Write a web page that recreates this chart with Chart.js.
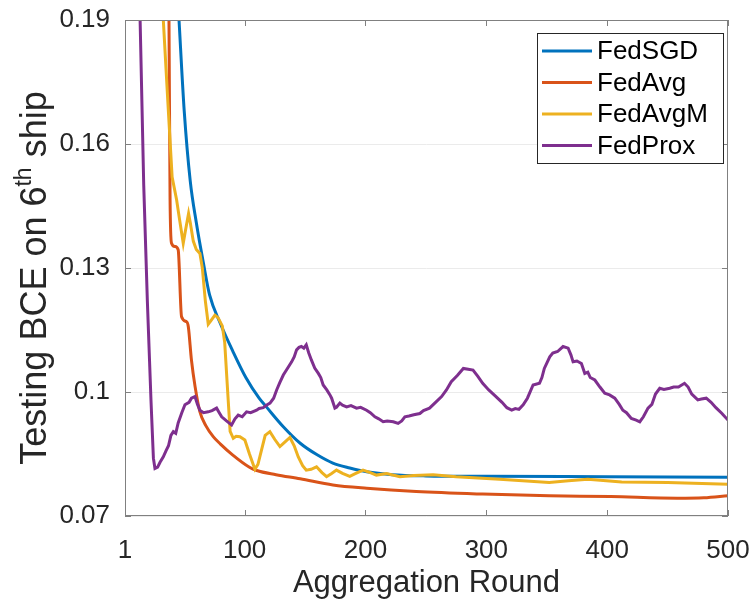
<!DOCTYPE html>
<html>
<head>
<meta charset="utf-8">
<script src="https://cdn.jsdelivr.net/npm/chart.js@4.4.0/dist/chart.umd.min.js"></script>
<style>
body{margin:0;background:#fff}
</style>
</head>
<body>
<canvas id="c" width="755" height="602"></canvas>
<script>
// axis ticks
const xTicks = [1, 100, 200, 300, 400, 500];
const yTicks = [0.07, 0.1, 0.13, 0.16, 0.19];
const yTickLabels = ['0.07', '0.1', '0.13', '0.16', '0.19'];

const seriesNames = ['FedSGD', 'FedAvg', 'FedAvgM', 'FedProx'];
const seriesColors = ['#0072BD', '#D95319', '#EDB120', '#7E2F8E'];

// values (rounds / testing BCE)
const sgdRounds = [41, 45.7, 50, 55, 60, 66, 71, 80, 90, 101, 112, 118, 132, 146, 160, 173, 187, 201, 222, 250, 300, 400, 500];
const sgdLoss = [0.215, 0.19, 0.168, 0.151, 0.141, 0.131, 0.1235, 0.1165, 0.110, 0.1035, 0.0985, 0.0964, 0.0916, 0.0876, 0.0848, 0.0828, 0.0816, 0.0807, 0.0800, 0.0797, 0.0796, 0.0795, 0.0794];

const avgRounds = [36, 37.4, 38.3, 39.5, 42.4, 45, 47.8, 52, 53.4, 56, 59, 63, 68, 74, 80, 90, 104, 110, 126, 146, 173, 201, 242, 297, 352, 403, 458, 480, 500];
const avgLoss = [0.24, 0.19, 0.1465, 0.136, 0.1352, 0.1344, 0.1182, 0.117, 0.1158, 0.1077, 0.1013, 0.0952, 0.0918, 0.0892, 0.0874, 0.0848, 0.0818, 0.0810, 0.0800, 0.0790, 0.0775, 0.0767, 0.0759, 0.0753, 0.0749, 0.0747, 0.0743, 0.0744, 0.0749];

const avgmRounds = [31.5, 32.7, 36.5, 40, 43.7, 46, 49.2, 51, 53.6, 55, 57.5, 60, 63, 65, 67.5, 69.9, 72, 75.4, 78, 81.5, 83.5, 86.4, 88, 90.6, 93, 96.1, 100.2, 104, 108.5, 111, 114, 117, 120.9, 125, 129.2, 133, 137.5, 141, 144.4, 148, 151, 155, 159.5, 164, 167.8, 172, 176, 181, 187, 192, 198, 204, 209, 217.5, 228.5, 240, 256, 275, 311, 352, 368, 384, 412, 450, 500];
const avgmLoss = [0.21, 0.19, 0.170, 0.152, 0.1465, 0.142, 0.136, 0.139, 0.1432, 0.141, 0.1365, 0.1345, 0.1335, 0.130, 0.122, 0.1164, 0.1172, 0.1186, 0.118, 0.1160, 0.112, 0.098, 0.0905, 0.0888, 0.0893, 0.0892, 0.0884, 0.085, 0.0813, 0.0825, 0.086, 0.0895, 0.0904, 0.0885, 0.0868, 0.0878, 0.089, 0.087, 0.0843, 0.0822, 0.0811, 0.0813, 0.0819, 0.0805, 0.0795, 0.0803, 0.0811, 0.0803, 0.0796, 0.0803, 0.0811, 0.0805, 0.0799, 0.0803, 0.0795, 0.0798, 0.0800, 0.0795, 0.0789, 0.0781, 0.0785, 0.0789, 0.0782, 0.0781, 0.0777];

const proxRounds = [1, 10, 13.5, 16.5, 19.5, 22.5, 24.5, 25.8, 28, 30, 32.7, 35, 37, 39, 41, 43, 45, 48, 50.6, 54, 56, 58.9, 61, 63, 66, 69.9, 73, 76.8, 79, 81, 85, 89.2, 92, 94.7, 98, 101.6, 105, 109.9, 112, 115.4, 118, 121, 124, 126.5, 129, 132, 135, 138.9, 141, 143, 145, 147, 149, 151, 153, 155.3, 158, 161, 163, 165, 168, 170.6, 172, 174.7, 176, 178.8, 181, 184.4, 188, 192.6, 196, 200.9, 204, 207.8, 211, 214.6, 218, 223, 227, 230, 232.6, 236, 240, 245, 248, 253, 258, 263, 267, 271, 276, 281, 285, 289, 293, 297, 302, 308, 313, 317, 321, 324, 327, 330.5, 334, 338.7, 344, 346, 348, 352.5, 355, 359, 363.5, 367.7, 370, 371.8, 375, 378.7, 381.5, 384, 386, 389.8, 394, 398, 402, 406.3, 410, 413, 416, 420, 424, 427, 430, 433.8, 437, 440, 443.5, 447, 451.8, 455, 459, 464, 467, 470, 475, 478, 482, 486, 490, 495, 500];
const proxLoss = [0.30, 0.23, 0.19, 0.150, 0.122, 0.098, 0.084, 0.0815, 0.0818, 0.083, 0.0843, 0.0858, 0.087, 0.0895, 0.0904, 0.090, 0.0925, 0.095, 0.0969, 0.0975, 0.0985, 0.0989, 0.097, 0.0956, 0.0950, 0.0952, 0.0955, 0.0961, 0.095, 0.0940, 0.093, 0.0920, 0.0935, 0.0944, 0.0940, 0.0952, 0.095, 0.0956, 0.0960, 0.0962, 0.0968, 0.0973, 0.0985, 0.1005, 0.1022, 0.1041, 0.1055, 0.1073, 0.1085, 0.1102, 0.1108, 0.1110, 0.1106, 0.1114, 0.1095, 0.1077, 0.1058, 0.1045, 0.1035, 0.1017, 0.1005, 0.0993, 0.0985, 0.0961, 0.0963, 0.0973, 0.0968, 0.0964, 0.0967, 0.0961, 0.0963, 0.0956, 0.0950, 0.0940, 0.0935, 0.0928, 0.0930, 0.0928, 0.0924, 0.0930, 0.0940, 0.0942, 0.0945, 0.0948, 0.0955, 0.0961, 0.0975, 0.0989, 0.1005, 0.1025, 0.1040, 0.1057, 0.1055, 0.1053, 0.1038, 0.1021, 0.1005, 0.0989, 0.0975, 0.0962, 0.0956, 0.0960, 0.0958, 0.0969, 0.0985, 0.1017, 0.1021, 0.1035, 0.1057, 0.1085, 0.1094, 0.1098, 0.1110, 0.1106, 0.1090, 0.1073, 0.1075, 0.1069, 0.1045, 0.1048, 0.1035, 0.1029, 0.1012, 0.0997, 0.0993, 0.0985, 0.0970, 0.0956, 0.0950, 0.0936, 0.0932, 0.0928, 0.0940, 0.0961, 0.0970, 0.0995, 0.1009, 0.1006, 0.1009, 0.1012, 0.1012, 0.1021, 0.1012, 0.0995, 0.0981, 0.0983, 0.0985, 0.0975, 0.0962, 0.0948, 0.0932];

const FONT = '"Liberation Sans", Arial, Helvetica, sans-serif';
const AXIS_COLOR = '#808080';
const TEXT_COLOR = '#262626';

function pts(xs, ys){ return xs.map((x, i) => ({x: x, y: ys[i]})); }

function line(i, xs, ys, order, smooth){
  return {
    label: seriesNames[i],
    data: pts(xs, ys),
    borderColor: seriesColors[i],
    backgroundColor: seriesColors[i],
    borderWidth: 3,
    pointRadius: 0,
    fill: false,
    clip: 0,
    order: order,
    tension: smooth ? 0.4 : 0,
    cubicInterpolationMode: smooth ? 'monotone' : 'default'
  };
}

// box, inner ticks, axis titles and legend, drawn the matlab way
const framePlugin = {
  id: 'frame',
  afterDraw(chart){
    const ctx = chart.ctx;
    const a = chart.chartArea;
    const xs = chart.scales.x, ys = chart.scales.y;
    ctx.save();
    ctx.strokeStyle = AXIS_COLOR;
    ctx.lineWidth = 1;
    ctx.strokeRect(a.left + 0.5, a.top + 0.5, a.right - a.left - 1, a.bottom - a.top - 1);
    ctx.beginPath();
    xTicks.forEach(v => {
      const px = Math.round(xs.getPixelForValue(v)) + 0.5;
      ctx.moveTo(px, a.bottom); ctx.lineTo(px, a.bottom - 6);
      ctx.moveTo(px, a.top); ctx.lineTo(px, a.top + 6);
    });
    yTicks.forEach(v => {
      const py = Math.round(ys.getPixelForValue(v)) + 0.5;
      ctx.moveTo(a.left, py); ctx.lineTo(a.left + 6, py);
      ctx.moveTo(a.right, py); ctx.lineTo(a.right - 6, py);
    });
    ctx.stroke();

    // x title
    ctx.fillStyle = TEXT_COLOR;
    ctx.font = '31px ' + FONT;
    ctx.textAlign = 'center';
    ctx.textBaseline = 'alphabetic';
    ctx.fillText('Aggregation Round', (a.left + a.right) / 2, 592);

    // y title with superscript
    const big = '36px ' + FONT, small = '23px ' + FONT;
    const p1 = 'Testing BCE on 6', p2 = 'th', p3 = ' ship';
    ctx.font = big; const w1 = ctx.measureText(p1).width, w3 = ctx.measureText(p3).width;
    ctx.font = small; const w2 = ctx.measureText(p2).width;
    const total = w1 + w2 + w3;
    ctx.translate(46, 278);
    ctx.rotate(-Math.PI / 2);
    ctx.textAlign = 'left';
    let sx = -total / 2;
    ctx.font = big; ctx.fillText(p1, sx, 0); sx += w1;
    ctx.font = small; ctx.fillText(p2, sx, -15); sx += w2;
    ctx.font = big; ctx.fillText(p3, sx, 0);
    ctx.setTransform(1, 0, 0, 1, 0, 0);

    // legend
    ctx.fillStyle = '#fff';
    ctx.fillRect(537, 33, 186, 130);
    ctx.strokeStyle = '#262626';
    ctx.strokeRect(537.5, 33.5, 186, 130);
    ctx.font = '26px ' + FONT;
    ctx.textBaseline = 'middle';
    seriesNames.forEach((n, i) => {
      const y = 51 + i * 31.5;
      ctx.strokeStyle = seriesColors[i];
      ctx.lineWidth = 3;
      ctx.beginPath(); ctx.moveTo(542, y); ctx.lineTo(592, y); ctx.stroke();
      ctx.fillStyle = '#000';
      ctx.fillText(n, 597, y + 1);
    });
    ctx.restore();
  }
};

new Chart(document.getElementById('c'), {
  type: 'line',
  data: {
    datasets: [
      line(0, sgdRounds, sgdLoss, 3, true),
      line(1, avgRounds, avgLoss, 2, true),
      line(2, avgmRounds, avgmLoss, 1, false),
      line(3, proxRounds, proxLoss, 0, false)
    ]
  },
  options: {
    responsive: false,
    devicePixelRatio: 1,
    animation: false,
    layout: {padding: {top: 20, right: 27, left: 0, bottom: 0}},
    plugins: {legend: {display: false}, tooltip: {enabled: false}},
    scales: {
      x: {
        type: 'linear', min: 1, max: 500,
        afterBuildTicks: s => { s.ticks = xTicks.map(v => ({value: v})); },
        afterFit: s => { s.height = 86; s.paddingLeft = 0; s.paddingRight = 0; },
        grid: {display: false},
        border: {display: false},
        ticks: {font: {family: FONT, size: 26}, color: TEXT_COLOR, padding: 11, maxRotation: 0, autoSkip: false}
      },
      y: {
        type: 'linear', min: 0.07, max: 0.19,
        afterBuildTicks: s => { s.ticks = yTicks.map(v => ({value: v})); },
        afterFit: s => { s.width = 125; s.paddingTop = 0; s.paddingBottom = 0; },
        grid: {color: '#ebebeb', drawTicks: false},
        border: {display: false},
        ticks: {font: {family: FONT, size: 26}, color: TEXT_COLOR, padding: 15, autoSkip: false,
          callback: (v, i) => yTickLabels[i]}
      }
    }
  },
  plugins: [framePlugin]
});
</script>
</body>
</html>
